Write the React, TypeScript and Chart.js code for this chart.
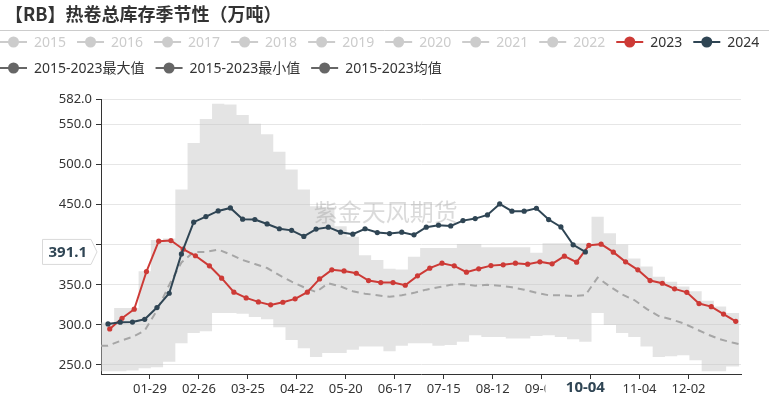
import React, { useEffect, useRef } from 'react';
import { Chart, registerables } from 'chart.js';

Chart.register(...registerables);

const TITLE = '【RB】热卷总库存季节性（万吨）';
const WATERMARK = '紫金天风期货';
const HIDDEN_YEARS = ['2015', '2016', '2017', '2018', '2019', '2020', '2021', '2022'];
const NAME_2023 = '2023';
const NAME_2024 = '2024';
const NAME_MAX = '2015-2023最大值';
const NAME_MIN = '2015-2023最小值';
const NAME_MEAN = '2015-2023均值';

const DATES_2023 = ['01-06','01-13','01-20','01-27','02-03','02-10','02-17','02-24','03-03','03-10','03-17','03-24','03-31','04-07','04-14','04-21','04-28','05-05','05-12','05-19','05-26','06-02','06-09','06-16','06-23','06-30','07-07','07-14','07-21','07-28','08-04','08-11','08-18','08-25','09-01','09-08','09-15','09-22','09-29','10-06','10-13','10-20','10-27','11-03','11-10','11-17','11-24','12-01','12-08','12-15','12-22','12-29'];
const VALUES_2023 = [295, 308.3, 319.6, 366.6, 404.5, 405.3, 394.5, 386.3, 373.7, 358.3, 340.8, 333.7, 328.7, 325, 328.3, 332.5, 340.8, 357.4, 368.7, 367.4, 364.5, 355.3, 352.8, 352.8, 349.5, 361.2, 370.8, 377, 373.7, 365.8, 370, 374, 375, 377, 375.8, 378.7, 376.2, 385.8, 378.3, 399.3, 400.8, 390.8, 378.7, 368.7, 355.3, 352, 345, 340.6, 326.6, 322.8, 313.5, 304.5];

const DATES_2024 = ['01-05','01-12','01-19','01-26','02-02','02-09','02-16','02-23','03-01','03-08','03-15','03-22','03-29','04-05','04-12','04-19','04-26','05-03','05-10','05-17','05-24','05-31','06-07','06-14','06-21','06-28','07-05','07-12','07-19','07-26','08-02','08-09','08-16','08-23','08-30','09-06','09-13','09-20','09-27','10-04'];
const VALUES_2024 = [301.2, 303.4, 303.5, 307, 321.6, 339.5, 388.6, 428.2, 435.2, 442.3, 446, 432, 431.6, 426, 420, 418, 410.5, 419.6, 422, 415.7, 413.2, 420, 415.3, 414, 415.7, 412.4, 422, 424.5, 423.6, 430.2, 432.7, 437.3, 451, 442, 442, 445.6, 431.5, 422.3, 400, 391.1];

const DATES_BAND = ['01-01','01-05','01-12','01-19','01-26','02-02','02-09','02-16','02-23','03-01','03-08','03-15','03-22','03-29','04-05','04-12','04-19','04-26','05-03','05-10','05-17','05-24','05-31','06-07','06-14','06-21','06-28','07-05','07-12','07-19','07-26','08-02','08-09','08-16','08-23','08-30','09-06','09-13','09-20','09-27','10-04','10-11','10-18','10-25','11-01','11-08','11-15','11-22','11-29','12-06','12-13','12-20','12-27','12-31'];
const VALUES_MAX = [303, 303, 321, 321, 367, 406, 408, 469, 527, 557, 576, 575, 562, 551, 538, 516, 494, 469, 448, 447, 423, 410, 387, 381, 370, 369, 385, 396, 396, 396, 401, 401, 397, 397, 397, 397, 390, 402, 402, 402, 402, 435, 414.5, 400, 383, 373, 360, 354, 348, 342, 330, 323, 315, 315];
const VALUES_MIN = [242, 242, 242, 243, 246, 247, 254, 277, 290, 292, 315, 315, 314, 310, 307, 297, 281, 271, 260, 265, 265, 269, 273, 273, 267, 274, 277, 277, 274, 275, 279, 287, 285, 285, 283, 283, 286, 287, 285, 282, 279, 315, 300, 290, 285, 273, 260, 261, 262, 256, 242, 242, 248, 248];
const VALUES_MEAN = [274, 274, 280, 285, 293, 318, 350, 378, 391, 391, 394, 388, 381, 376, 371, 362, 354, 347, 341, 352, 348, 342, 339, 337, 335, 337, 340, 344, 347, 350, 351, 349, 350, 349, 347, 344, 340, 337, 337, 336, 337, 359, 348, 338, 331, 320, 311, 307, 302, 295, 288, 282, 278, 276];

const X_TICK_LABELS = ['01-29','02-26','03-25','04-22','05-20','06-17','07-15','08-12','09-09','10-07','11-04','12-02'];
const Y_TICKS = [250, 300, 350, 400, 450, 500, 550, 582];
const Y_MIN = 238.7;
const Y_MAX = 582;
const X_MIN = '01-01';
const X_DAYS_IN_YEAR = 366;

const FONT = '"Noto Sans", "Noto Sans CJK SC", sans-serif';
const CJK_FONT = '"Noto Sans CJK SC", "Noto Sans", sans-serif';
const RED = '#cd3a36';
const NAVY = '#2f4554';
const GREY_ICON = '#666666';

const dayOf = (md: string) => {
  const [m, d] = md.split('-').map(Number);
  return (Date.UTC(2024, m - 1, d) - Date.UTC(2024, 0, 1)) / 86400000;
};
const toPoints = (dates: string[], values: number[]) =>
  dates.map((d, i) => ({ x: dayOf(d), y: values[i] }));

const decorPlugin = {
  id: 'decor',
  afterDatasetsDraw(chart: any) {
    const ctx = chart.ctx;
    const a = chart.chartArea;
    ctx.save();
    ctx.font = '24px ' + CJK_FONT;
    ctx.fillStyle = 'rgba(140,140,140,0.32)';
    ctx.textAlign = 'center';
    ctx.textBaseline = 'middle';
    ctx.fillText(WATERMARK, a.left + (a.right - a.left) * 0.445, a.top + (a.bottom - a.top) * 0.41);
    ctx.restore();
  },
  afterDraw(chart: any) {
    const ctx = chart.ctx;
    const xs = chart.scales.x;
    const ys = chart.scales.y;
    ctx.save();
    // title
    ctx.fillStyle = '#333';
    ctx.font = 'bold 18px ' + CJK_FONT;
    ctx.textAlign = 'left';
    ctx.textBaseline = 'middle';
    ctx.fillText(TITLE, 5, 14);
    ctx.strokeStyle = '#cccccc';
    ctx.lineWidth = 1;
    ctx.beginPath();
    ctx.moveTo(0, 30.5);
    ctx.lineTo(chart.width, 30.5);
    ctx.stroke();

    // legend
    const rows = [
      [
        ...HIDDEN_YEARS.map((n) => ({ name: n, icon: '#cccccc', text: '#cccccc' })),
        { name: NAME_2023, icon: RED, text: '#333' },
        { name: NAME_2024, icon: NAVY, text: '#333' },
      ],
      [
        { name: NAME_MAX, icon: GREY_ICON, text: '#333' },
        { name: NAME_MIN, icon: GREY_ICON, text: '#333' },
        { name: NAME_MEAN, icon: GREY_ICON, text: '#333' },
      ],
    ];
    const rowY = [42, 68];
    ctx.font = '14px ' + FONT;
    rows.forEach((row, ri) => {
      let x = 0;
      const y = rowY[ri];
      row.forEach((it) => {
        ctx.strokeStyle = it.icon;
        ctx.lineWidth = 2;
        ctx.beginPath();
        ctx.moveTo(x, y);
        ctx.lineTo(x + 27, y);
        ctx.stroke();
        ctx.fillStyle = it.icon;
        ctx.beginPath();
        ctx.arc(x + 13.5, y, 5.5, 0, Math.PI * 2);
        ctx.fill();
        ctx.fillStyle = it.text;
        ctx.textAlign = 'left';
        ctx.textBaseline = 'middle';
        ctx.fillText(it.name, x + 34, y + 1);
        x += 34 + ctx.measureText(it.name).width + 11;
      });
    });

    // y marker for latest 2024 value
    const last = VALUES_2024[VALUES_2024.length - 1];
    const cy = ys.getPixelForValue(last);
    const tip = ys.left + ys.width - 4;
    ctx.beginPath();
    ctx.moveTo(42.5, cy - 12.5);
    ctx.lineTo(tip - 6, cy - 12.5);
    ctx.lineTo(tip, cy);
    ctx.lineTo(tip - 6, cy + 12.5);
    ctx.lineTo(42.5, cy + 12.5);
    ctx.closePath();
    ctx.fillStyle = '#ffffff';
    ctx.fill();
    ctx.strokeStyle = '#d9d9d9';
    ctx.lineWidth = 1;
    ctx.stroke();
    ctx.fillStyle = NAVY;
    ctx.font = 'bold 15px ' + FONT;
    ctx.textAlign = 'center';
    ctx.textBaseline = 'middle';
    ctx.fillText(last.toFixed(1), (42.5 + tip - 6) / 2 + 1, cy + 1);

    // x pointer label at the latest 2024 date
    const lastDate = DATES_2024[DATES_2024.length - 1];
    const px = xs.getPixelForValue(dayOf(lastDate));
    ctx.fillStyle = '#ffffff';
    ctx.fillRect(px - 40, xs.top + 6, 78, chart.height - xs.top - 6);
    ctx.fillStyle = NAVY;
    ctx.font = 'bold 15px ' + FONT;
    ctx.fillText(lastDate, px, xs.top + 14);
    ctx.restore();
  },
};

export default function App() {
  const ref = useRef<HTMLCanvasElement | null>(null);
  useEffect(() => {
    if (!ref.current) return;
    const chart = new Chart(ref.current, {
      type: 'line',
      data: {
        datasets: [
          {
            label: NAME_2024,
            data: toPoints(DATES_2024, VALUES_2024),
            borderColor: NAVY,
            backgroundColor: NAVY,
            borderWidth: 2,
            pointRadius: 2.6,
            pointBorderWidth: 0,
            pointBackgroundColor: NAVY,
            fill: false,
          },
          {
            label: NAME_2023,
            data: toPoints(DATES_2023, VALUES_2023),
            borderColor: RED,
            backgroundColor: RED,
            borderWidth: 2,
            pointRadius: 2.6,
            pointBorderWidth: 0,
            pointBackgroundColor: RED,
            fill: false,
          },
          {
            label: NAME_MEAN,
            data: toPoints(DATES_BAND, VALUES_MEAN),
            borderColor: '#a6a6a6',
            borderWidth: 2,
            borderDash: [7, 5],
            pointRadius: 0,
            fill: false,
          },
          {
            label: NAME_MAX,
            data: toPoints(DATES_BAND, VALUES_MAX),
            borderWidth: 0,
            borderColor: 'rgba(0,0,0,0)',
            pointRadius: 0,
            stepped: 'middle',
            fill: '+1',
            backgroundColor: 'rgba(195,195,195,0.45)',
          },
          {
            label: NAME_MIN,
            data: toPoints(DATES_BAND, VALUES_MIN),
            borderWidth: 0,
            borderColor: 'rgba(0,0,0,0)',
            pointRadius: 0,
            stepped: 'middle',
            fill: false,
          },
        ],
      },
      options: {
        responsive: false,
        animation: false,
        devicePixelRatio: 1,
        layout: { padding: { top: 99, right: 28, bottom: 0, left: 0 } },
        plugins: {
          legend: { display: false },
          title: { display: false },
          tooltip: { enabled: false },
        },
        scales: {
          x: {
            type: 'linear',
            min: dayOf(X_MIN),
            max: X_DAYS_IN_YEAR,
            afterBuildTicks: (s: any) => {
              s.ticks = X_TICK_LABELS.map((l) => ({ value: dayOf(l) }));
            },
            afterFit: (s: any) => {
              s.height = 23;
            },
            grid: {
              drawOnChartArea: false,
              drawTicks: true,
              tickLength: 5,
              tickColor: '#333',
            },
            border: { color: '#333', width: 1 },
            ticks: {
              autoSkip: false,
              maxRotation: 0,
              padding: 2,
              color: '#333',
              font: { family: FONT, size: 13 },
              callback: (v: any) => {
                const i = X_TICK_LABELS.findIndex((l) => dayOf(l) === Number(v));
                return i >= 0 ? X_TICK_LABELS[i] : '';
              },
            },
          },
          y: {
            type: 'linear',
            min: Y_MIN,
            max: Y_MAX,
            afterBuildTicks: (s: any) => {
              s.ticks = Y_TICKS.map((v) => ({ value: v }));
            },
            afterFit: (s: any) => {
              s.width = 101;
            },
            grid: {
              color: '#e6e6e6',
              lineWidth: 1,
              drawTicks: true,
              tickLength: 5,
              tickColor: '#333',
            },
            border: { color: '#333', width: 1 },
            ticks: {
              autoSkip: false,
              padding: 4,
              color: '#333',
              font: { family: FONT, size: 13 },
              callback: (v: any) => (Number(v) === 400 ? '' : Number(v).toFixed(1)),
            },
          },
        },
      },
      plugins: [decorPlugin],
    } as any);
    return () => chart.destroy();
  }, []);
  return (
    <canvas
      ref={ref}
      width={769}
      height={397}
      style={{ position: 'fixed', left: 0, top: 0, width: 769, height: 397 }}
    />
  );
}
